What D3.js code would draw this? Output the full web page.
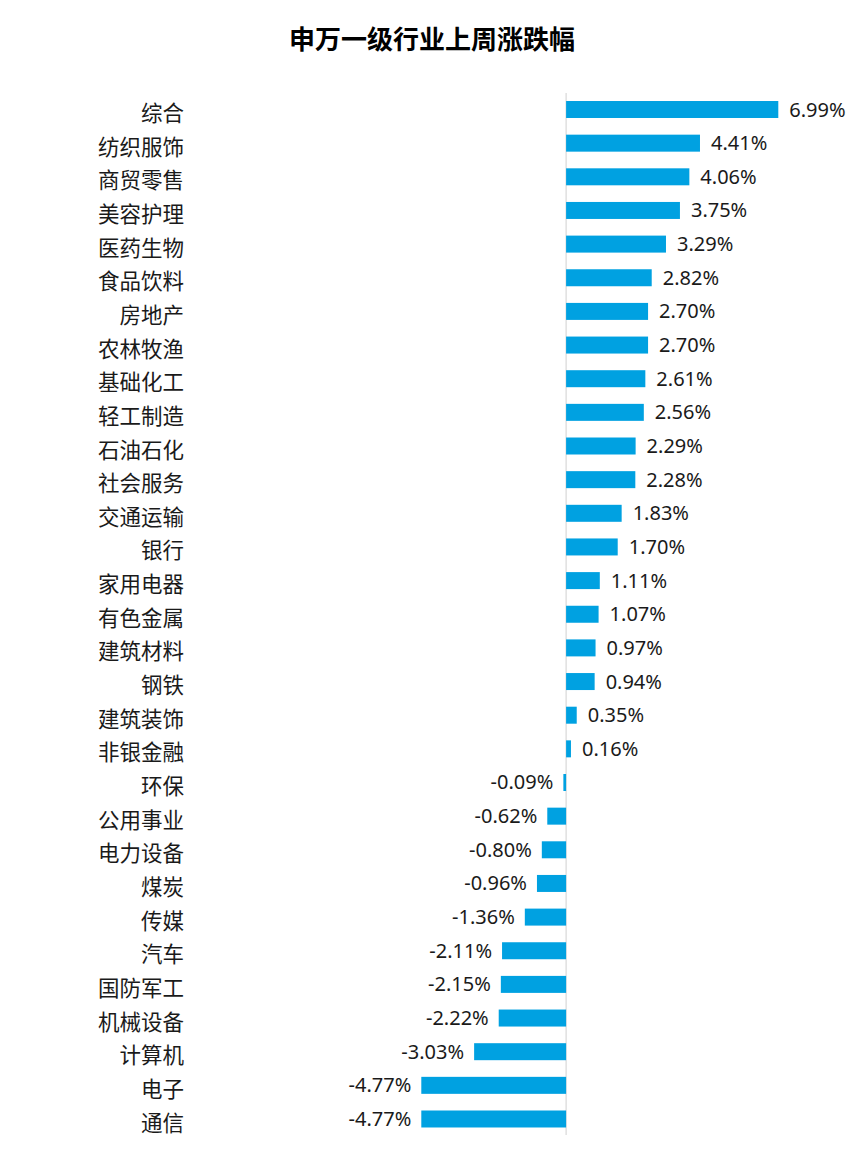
<!DOCTYPE html>
<html>
<head>
<meta charset="utf-8">
<script src="https://cdn.jsdelivr.net/npm/d3@7"></script>
<style>
  body { margin: 0; background: #fff; }
</style>
</head>
<body>
<script>
// industries, top to bottom
var industries = ["综合","纺织服饰","商贸零售","美容护理","医药生物","食品饮料","房地产","农林牧渔","基础化工","轻工制造",
  "石油石化","社会服务","交通运输","银行","家用电器","有色金属","建筑材料","钢铁","建筑装饰","非银金融",
  "环保","公用事业","电力设备","煤炭","传媒","汽车","国防军工","机械设备","计算机","电子","通信"];
// weekly change, %
var changes = [6.99,4.41,4.06,3.75,3.29,2.82,2.70,2.70,2.61,2.56,
  2.29,2.28,1.83,1.70,1.11,1.07,0.97,0.94,0.35,0.16,
  -0.09,-0.62,-0.80,-0.96,-1.36,-2.11,-2.15,-2.22,-3.03,-4.77,-4.77];

var W = 865, H = 1158;
var data = industries.map(function(d,i){ return {name:d, v:changes[i]}; });

var svg = d3.select("body").append("svg")
  .attr("width",W).attr("height",H);

svg.append("text")
  .attr("x",432).attr("y",49)
  .attr("text-anchor","middle")
  .style("font-family","'Noto Sans CJK SC'")
  .style("font-weight","bold")
  .style("font-size","26px")
  .text("申万一级行业上周涨跌幅");

var x = d3.scaleLinear().domain([-4.77,6.99]).range([421.3,778.3]);
var y = d3.scaleBand().domain(industries)
  .range([92.6,1135.9])
  .paddingInner(0.495).paddingOuter(0.25);

// zero axis
svg.append("line")
  .attr("x1",x(0)).attr("x2",x(0))
  .attr("y1",93).attr("y2",1135)
  .attr("stroke","#d0d0d0").attr("stroke-width",1);

svg.selectAll("rect.bar").data(data).enter()
  .append("rect").attr("class","bar")
  .attr("x",function(d){ return x(Math.min(0,d.v)); })
  .attr("y",function(d){ return y(d.name); })
  .attr("width",function(d){ return Math.abs(x(d.v)-x(0)); })
  .attr("height",y.bandwidth())
  .style("fill","#00a1e1");

// category names
svg.selectAll("text.cat").data(data).enter()
  .append("text").attr("class","cat")
  .attr("x",184)
  .attr("y",function(d){ return y(d.name)+y.bandwidth()/2+4; })
  .attr("dy","0.35em")
  .attr("text-anchor","end")
  .style("font-family","'Noto Sans CJK SC'")
  .style("font-size","21.5px")
  .style("fill","#1a1a1a")
  .text(function(d){ return d.name; });

// value labels
svg.selectAll("text.val").data(data).enter()
  .append("text").attr("class","val")
  .attr("x",function(d){ return d.v>=0 ? x(d.v)+11 : x(d.v)-10; })
  .attr("y",function(d){ return y(d.name)+y.bandwidth()/2; })
  .attr("dy","0.35em")
  .attr("text-anchor",function(d){ return d.v>=0 ? "start" : "end"; })
  .style("font-family","'Noto Sans'")
  .style("font-size","20px")
  .style("fill","#1a1a1a")
  .text(function(d){ return d.v.toFixed(2)+"%"; });
</script>
</body>
</html>
